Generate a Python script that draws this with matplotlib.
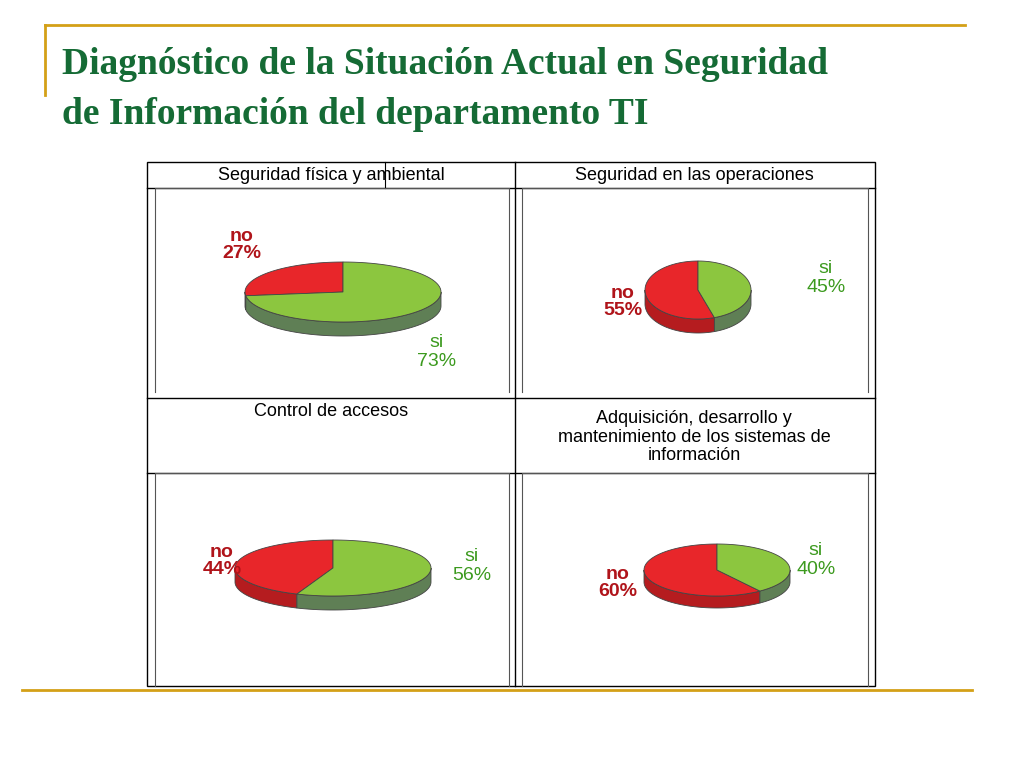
import matplotlib.pyplot as plt
import numpy as np
from matplotlib.patches import Polygon, Rectangle

titles = ["Seguridad física y ambiental", "Seguridad en las operaciones",
          "Control de accesos",
          "Adquisición, desarrollo y\nmantenimiento de los sistemas de\ninformación"]
si_pct = [73, 45, 56, 40]
no_pct = [27, 55, 44, 60]

# pie geometry in pixels: cx, cy, rx, ry, depth
geo = [(343, 292, 98, 30, 14), (698, 290, 53, 29, 14),
       (333, 568, 98, 28, 14), (717, 570, 73, 26, 12)]
no_lab = [(242, 245), (623, 302), (222, 561), (618, 583)]
si_lab = [(437, 352), (826, 278), (472, 566), (816, 560)]

fig = plt.figure(figsize=(10.24, 7.68), dpi=100)
ax = fig.add_axes([0, 0, 1, 1])
ax.set_xlim(0, 1024)
ax.set_ylim(768, 0)
ax.axis("off")

gold = "#d4a017"
ax.plot([45, 965], [25, 25], color=gold, lw=2)
ax.plot([45, 45], [25, 95], color=gold, lw=2)
ax.plot([22, 972], [690, 690], color=gold, lw=2)

ax.text(62, 65, "Diagnóstico de la Situación Actual en Seguridad", family="Liberation Serif",
        fontweight="bold", fontsize=27, color="#156b35", va="center")
ax.text(62, 115, "de Información del departamento TI", family="Liberation Serif",
        fontweight="bold", fontsize=27, color="#156b35", va="center")

# table
k = "black"
ax.add_patch(Rectangle((147, 162), 728, 524, fill=False, ec=k, lw=1))
for y in [188, 398, 473]:
    ax.plot([147, 875], [y, y], color=k, lw=1)
ax.plot([515, 515], [162, 686], color=k, lw=1)
ax.plot([385, 385], [162, 188], color=k, lw=0.8)
for (x0, x1), (y0, y1) in [((155, 509), (188, 392)), ((522, 868), (188, 392)),
                           ((155, 509), (473, 686)), ((522, 868), (473, 686))]:
    ax.plot([x0, x0, x1, x1], [y1, y0, y0, y1], color="#555555", lw=0.8)
hdr = [(331, 176), (694, 176), (331, 412), (694, 437)]
for t, (x, y) in zip(titles, hdr):
    ax.text(x, y, t, ha="center", va="center", family="Liberation Sans",
            fontsize=13, linespacing=1.1)


def arc(cx, cy, rx, ry, a0, a1, n=80):
    t = np.radians(np.linspace(a0, a1, n))
    return np.column_stack([cx + rx * np.cos(t), cy - ry * np.sin(t)])


def draw_pie(g, no):
    cx, cy, rx, ry, d = g
    a_split = 90 + no * 3.6
    wedges = [(90, a_split, "#e8262a", "#b51c1f"),
              (a_split, 450, "#8cc63f", "#5f7f55")]
    # sides (front visible part: angles 180..360)
    for a0, a1, top, side in wedges:
        for off in (0, 360):
            lo, hi = max(a0, 180 + off), min(a1, 360 + off)
            if lo < hi:
                p = arc(cx, cy, rx, ry, lo, hi)
                q = p[::-1] + [0, d]
                ax.add_patch(Polygon(np.vstack([p, q]), closed=True, fc=side,
                                     ec="#444444", lw=0.6))
    for a0, a1, top, side in wedges:
        p = arc(cx, cy, rx, ry, a0, a1)
        ax.add_patch(Polygon(np.vstack([[cx, cy], p]), closed=True, fc=top,
                             ec="#444444", lw=0.6))


for i in range(4):
    draw_pie(geo[i], no_pct[i])
    nx, ny = no_lab[i]
    ax.text(nx, ny, f"no\n{no_pct[i]}%", ha="center", va="center", color="#b0141a",
            fontweight="bold", family="Liberation Sans", fontsize=14, linespacing=1.0)
    sx, sy = si_lab[i]
    ax.text(sx, sy, f"si\n{si_pct[i]}%", ha="center", va="center", color="#3c9a1e",
            family="Liberation Sans", fontsize=14, linespacing=1.1)

fig.savefig("out.png", dpi=100)
